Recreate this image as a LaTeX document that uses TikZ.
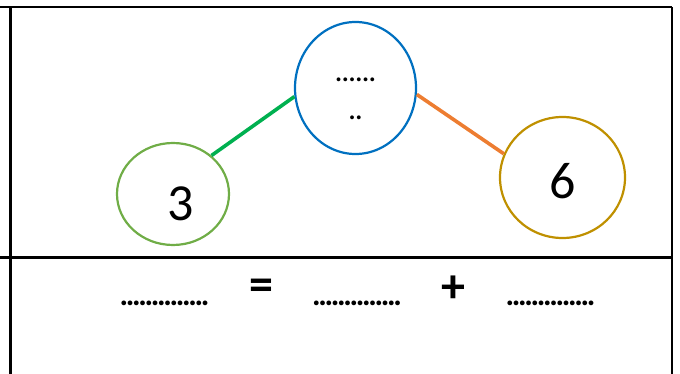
\documentclass[tikz,border=0pt]{standalone}
\usepackage{fontspec}
\setmainfont{Carlito}
\usetikzlibrary{shapes.geometric}
\definecolor{cblue}{HTML}{0070C0}
\definecolor{cgreen}{HTML}{70AD47}
\definecolor{cgold}{HTML}{BF9000}
\definecolor{lgreen}{HTML}{00B050}
\definecolor{lorange}{HTML}{ED7D31}
\newcommand\dd{.\kern-1.3pt}
\newcommand\bd{.\kern-2.3pt}
\tikzset{
  grid/.style={line width=2.2pt, black},
  bubble/.style={ellipse, draw, line width=2.2pt, inner sep=0pt},
  link/.style={line width=3.6pt},
  smalldots/.style={font=\fontsize{32}{32}\selectfont, inner sep=0pt, anchor=base},
  dots/.style={font=\fontsize{32}{32}\selectfont\bfseries, inner sep=0pt, anchor=base},
  sym/.style={font=\fontsize{48}{48}\selectfont\bfseries, inner sep=0pt},
}
\begin{document}
\begin{tikzpicture}[x=1pt,y=-1pt]
\useasboundingbox (0,0) rectangle (680,374);
% table lines
\coordinate (tl) at (0,7);
\coordinate (tr) at (672,7);
\coordinate (ml) at (0,257.5);
\coordinate (mr) at (672,257.5);
\coordinate (lt) at (10.5,7);
\coordinate (lb) at (10.5,374);
\coordinate (rt) at (672,7);
\coordinate (rb) at (672,374);
\draw[grid] (tl) -- (tr);
\draw[grid] (ml) -- (mr);
\draw[grid] (lt) -- (lb);
\draw[grid] (rt) -- (rb);
% bubbles
\node[bubble, draw=cblue, minimum width=121, minimum height=132] (top) at (355.5,88) {};
\node[bubble, draw=cgreen, minimum width=112, minimum height=102] (left) at (173,194) {};
\node[bubble, draw=cgold, minimum width=125, minimum height=121] (right) at (562.5,177.5) {};
\node[smalldots] (d1) at (355.5,82) {\dd\dd\dd\dd\dd.};
\node[smalldots] (d2) at (355.5,120) {\dd.};
\node[font=\fontsize{52}{52}\selectfont, inner sep=0pt] (n3) at (181,204) {3};
\node[font=\fontsize{52}{52}\selectfont, inner sep=0pt] (n6) at (563,181) {6};
% connectors
\draw[link, lgreen] (left.45) -- (top.188);
\draw[link, lorange] (top.-6) -- (right.158);
% equation row
\node[dots] (b1) at (164.5,305.5) {\bd\bd\bd\bd\bd\bd\bd\bd\bd\bd\bd\bd\bd.};
\node[sym] (eq) at (261,290) {=};
\node[dots] (b2) at (357,305.5) {\bd\bd\bd\bd\bd\bd\bd\bd\bd\bd\bd\bd\bd.};
\node[sym] (pl) at (453,289) {+};
\node[dots] (b3) at (550.5,305.5) {\bd\bd\bd\bd\bd\bd\bd\bd\bd\bd\bd\bd\bd.};
\end{tikzpicture}
\end{document}
